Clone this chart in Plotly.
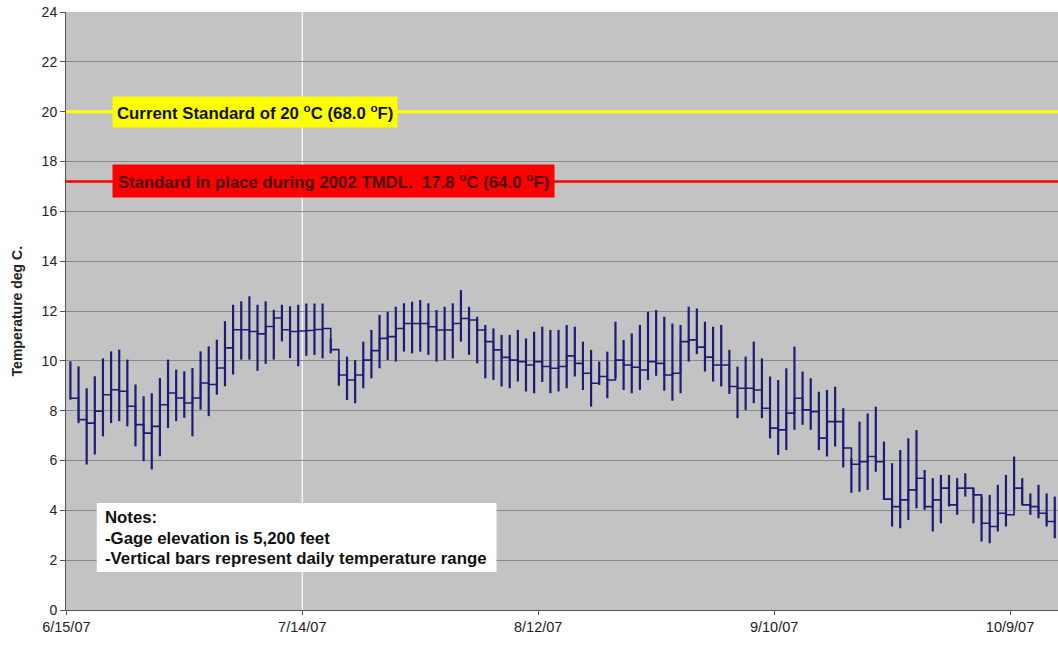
import pandas as pd
import plotly.graph_objects as go

# ---------------- data ----------------
start_day = "2007-06-15 12:00"   # first daily bar (bars centred at mid-day)

daily_max = [9.98, 9.78, 8.9, 9.38, 10.1, 10.38, 10.45, 10.05, 9.05, 8.58,
             8.7, 9.31, 10.05, 9.65, 9.58, 9.71, 10.38, 10.58, 10.85, 11.59,
             12.25, 12.39, 12.59, 12.25, 12.39, 12.05, 12.25, 12.19, 12.25, 12.3,
             12.3, 12.3, 10.9, 10.0, 10.17, 10.03, 10.77, 11.24, 11.84, 11.97,
             12.17, 12.31, 12.37, 12.44, 12.31, 12.04, 12.17, 12.31, 12.84, 12.17,
             11.77, 11.44, 11.3, 11.04, 11.04, 11.24, 10.9, 11.17, 11.37, 11.24,
             11.24, 11.44, 11.37, 10.77, 10.44, 9.97, 10.37, 11.57, 10.84, 11.1,
             11.44, 11.97, 12.04, 11.77, 11.5, 11.44, 12.17, 12.1, 11.57, 11.37,
             11.44, 10.44, 9.77, 10.17, 10.77, 10.1, 9.37, 9.23, 9.7, 10.57,
             9.57, 9.3, 8.76, 8.83, 8.96, 8.1, 6.09, 7.56, 7.89, 8.16,
             6.76, 5.89, 6.42, 6.89, 7.22, 5.62, 5.29, 5.42, 5.42, 5.29,
             5.49, 4.89, 4.55, 4.62, 5.02, 5.42, 6.16, 5.29, 4.68, 5.02,
             4.68, 4.55]

daily_mean = [8.5, 7.64, 7.5, 7.98, 8.64, 8.84, 8.78, 8.18, 7.44, 7.1,
              7.37, 8.24, 8.71, 8.51, 8.31, 8.51, 9.11, 9.05, 9.71, 10.52,
              11.25, 11.25, 11.18, 11.08, 11.38, 11.72, 11.25, 11.18, 11.2, 11.22,
              11.26, 11.3, 10.45, 9.43, 9.23, 9.43, 10.03, 10.41, 10.9, 10.97,
              11.3, 11.5, 11.5, 11.5, 11.37, 11.24, 11.24, 11.5, 11.7, 11.64,
              11.24, 10.77, 10.44, 10.14, 10.03, 9.97, 9.83, 9.97, 9.77, 9.7,
              9.77, 10.2, 9.9, 9.5, 9.1, 9.37, 9.23, 10.03, 9.83, 9.74,
              9.63, 9.97, 9.9, 9.43, 9.5, 10.77, 10.84, 10.55, 10.15, 9.83,
              9.83, 8.97, 8.9, 8.9, 8.83, 8.1, 7.3, 7.23, 7.9, 8.5,
              8.03, 7.96, 6.9, 7.56, 7.56, 6.5, 5.85, 5.95, 6.16, 5.95,
              4.45, 4.15, 4.42, 4.82, 5.29, 4.15, 4.42, 4.89, 4.22, 4.89,
              4.89, 4.62, 3.48, 3.35, 3.88, 3.82, 4.89, 4.22, 4.15, 3.88,
              3.55, 3.48]

daily_min = [8.44, 7.5, 5.84, 6.24, 6.97, 7.5, 7.58, 7.37, 6.57, 5.97,
             5.64, 6.17, 7.3, 7.58, 7.71, 6.97, 8.04, 7.78, 8.64, 8.98,
             9.45, 10.05, 10.05, 9.6, 9.88, 10.05, 10.78, 10.11, 9.78, 10.2,
             10.24, 10.1, 10.3, 9.0, 8.43, 8.3, 8.9, 9.3, 9.7, 10.03,
             9.97, 10.37, 10.3, 10.37, 10.24, 9.97, 10.03, 10.1, 10.77, 10.24,
             9.9, 9.3, 9.23, 8.97, 8.9, 9.17, 8.77, 8.7, 9.15, 8.7,
             8.77, 8.9, 9.37, 8.83, 8.16, 9.03, 8.5, 9.3, 8.83, 8.7,
             8.83, 9.23, 9.4, 8.8, 8.4, 8.7, 9.97, 10.27, 9.57, 9.17,
             8.97, 8.67, 7.7, 8.03, 8.3, 7.7, 6.89, 6.22, 6.42, 7.23,
             7.43, 7.23, 6.42, 6.16, 6.56, 5.72, 4.7, 4.75, 4.82, 5.55,
             4.42, 3.35, 3.28, 3.61, 4.08, 4.02, 3.15, 3.48, 4.15, 3.82,
             4.55, 3.48, 2.75, 2.68, 3.15, 3.35, 4.02, 4.22, 3.82, 3.68,
             3.35, 2.88]

tick_dates = ["2007-06-15", "2007-07-14", "2007-08-12", "2007-09-10", "2007-10-09"]
tick_labels = ["6/15/07", "7/14/07", "8/12/07", "9/10/07", "10/9/07"]
x_range = ["2007-06-14 23:00", "2007-10-14 21:30"]
y_ticks = list(range(0, 25, 2))

standard_current = 20.0
standard_2002 = 17.2
marker_date = "2007-07-14"

y_title = "Temperature deg C."
label_current = "Current Standard of 20 <sup>o</sup>C (68.0 <sup>o</sup>F)"
label_2002 = "Standard in place during 2002 TMDL.  17.8 <sup>o</sup>C (64.0 <sup>o</sup>F)"
notes = ["Notes:", "-Gage elevation is 5,200 feet",
         "-Vertical bars represent daily temperature range"]

# ---------------- figure ----------------
days = pd.date_range(start_day, periods=len(daily_mean), freq="D")
err_plus = [mx - m for mx, m in zip(daily_max, daily_mean)]
err_minus = [m - mn for m, mn in zip(daily_mean, daily_min)]

FONT = "Arial, 'Liberation Sans', sans-serif"
NAVY = "#1c1c78"

fig = go.Figure()

fig.add_hline(y=standard_current, line=dict(color="#ffff00", width=3), layer="above")
fig.add_hline(y=standard_2002, line=dict(color="#ff0000", width=2.5), layer="above")
fig.add_vline(x=pd.Timestamp(marker_date).value / 1e6, line=dict(color="#ffffff", width=1.2), layer="below")

fig.add_trace(go.Scatter(
    x=days, y=daily_mean, mode="lines",
    line=dict(color=NAVY, width=1.6, shape="hv"),
    error_y=dict(type="data", symmetric=False, array=err_plus, arrayminus=err_minus,
                 color=NAVY, thickness=2.2, width=0),
    showlegend=False, hoverinfo="skip"))

fig.add_annotation(x=0.046, xref="paper", y=standard_current, yref="y",
                   xanchor="left", yanchor="middle", text="<b>" + label_current + "</b>",
                   showarrow=False, bgcolor="#ffff00", borderpad=4,
                   font=dict(family=FONT, size=16.8, color="#111111"))
fig.add_annotation(x=0.046, xref="paper", y=standard_2002, yref="y",
                   xanchor="left", yanchor="middle", text="<b>" + label_2002 + "</b>",
                   showarrow=False, bgcolor="#ff0000", borderpad=5,
                   font=dict(family=FONT, size=16.8, color="#4a0000"))

fig.add_shape(type="rect", xref="paper", yref="paper",
              x0=0.031, x1=0.434, y0=0.0635, y1=0.179,
              fillcolor="#ffffff", line=dict(width=0), layer="above")
for k, line in enumerate(notes):
    fig.add_annotation(x=0.037, xref="paper", y=0.1555 - k * 0.0351, yref="paper",
                       xanchor="left", yanchor="middle", text="<b>" + line + "</b>",
                       showarrow=False, font=dict(family=FONT, size=16.8, color="#111111"))

fig.add_annotation(x=-0.049, xref="paper", y=0.5, yref="paper", textangle=-90,
                   xanchor="center", yanchor="middle", text="<b>" + y_title + "</b>",
                   showarrow=False, font=dict(family=FONT, size=14, color="#222222"))

fig.update_layout(
    width=1058, height=646, autosize=False,
    margin=dict(l=66, r=0, t=12, b=36),
    paper_bgcolor="#ffffff", plot_bgcolor="#c3c3c3",
    font=dict(family=FONT, size=12, color="#222222"),
    showlegend=False,
)
fig.update_xaxes(type="date", range=x_range, tickvals=tick_dates, ticktext=tick_labels,
                 automargin=False,
                 showgrid=False, zeroline=False, showline=True, linecolor="#555555",
                 ticks="outside", ticklen=4, tickcolor="#555555",
                 tickfont=dict(family=FONT, size=14.5, color="#222222"))
fig.update_yaxes(range=[0, 24], tickvals=y_ticks, showgrid=True, gridcolor="#8a8a8a",
                 automargin=False,
                 gridwidth=1, zeroline=False, showline=True, linecolor="#555555",
                 ticks="outside", ticklen=5, tickcolor="#555555",
                 tickfont=dict(family=FONT, size=14, color="#222222"))

# remove the browser's default 8px page margin so the figure fills the window
fig.write_html("out.html",
               config={"displayModeBar": False, "staticPlot": True},
               post_script="document.body.style.margin='0';document.body.style.overflow='hidden';")
